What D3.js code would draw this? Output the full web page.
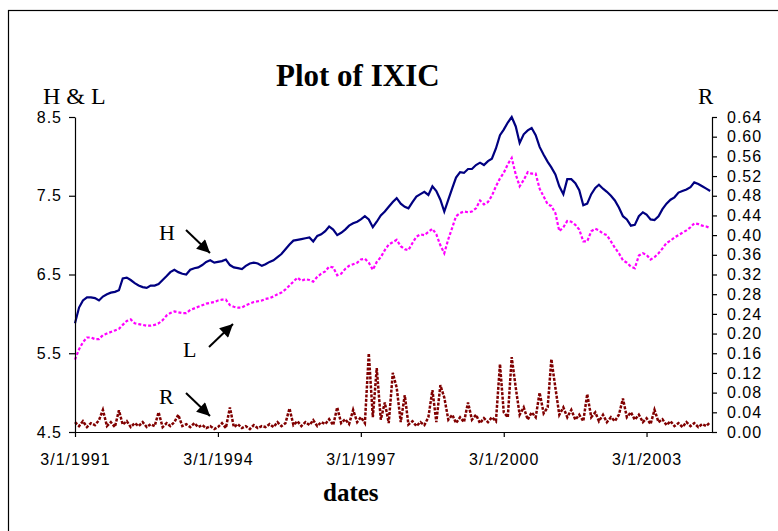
<!DOCTYPE html>
<html>
<head>
<meta charset="utf-8">
<script src="https://d3js.org/d3.v7.min.js"></script>
<style>
  body { margin: 0; background: #fff; }
  svg { display: block; }
</style>
</head>
<body>
<div id="chart"></div>
<script>
    // monthly readings, Mar 1991 .. Jul 2004
    var startMonth = new Date(1991, 2, 1), endMonth = new Date(2004, 7, 1);
    var months = d3.timeMonth.range(startMonth, endMonth);

    var hValues = [
        5.88, 6.08, 6.17, 6.21, 6.21, 6.20, 6.17, 6.22, 6.25, 6.27,
        6.28, 6.30, 6.45, 6.46, 6.43, 6.39, 6.36, 6.34, 6.33, 6.36,
        6.36, 6.38, 6.43, 6.48, 6.53, 6.56, 6.53, 6.51, 6.50, 6.56,
        6.58, 6.59, 6.62, 6.66, 6.68, 6.65, 6.66, 6.67, 6.69, 6.62,
        6.59, 6.58, 6.57, 6.61, 6.64, 6.65, 6.64, 6.61, 6.63, 6.66,
        6.68, 6.72, 6.76, 6.82, 6.88, 6.93, 6.94, 6.95, 6.96, 6.97,
        6.92, 6.99, 7.01, 7.05, 7.11, 7.07, 7.00, 7.03, 7.07, 7.12,
        7.15, 7.17, 7.20, 7.24, 7.20, 7.10, 7.17, 7.25, 7.30, 7.36,
        7.42, 7.47, 7.40, 7.36, 7.34, 7.42, 7.49, 7.52, 7.55, 7.51,
        7.62, 7.56, 7.45, 7.30, 7.45, 7.60, 7.73, 7.80, 7.79, 7.84,
        7.84, 7.89, 7.92, 7.89, 7.94, 7.97, 8.10, 8.27, 8.34, 8.43,
        8.50, 8.38, 8.17, 8.28, 8.33, 8.36, 8.27, 8.12, 8.02, 7.93,
        7.86, 7.77, 7.62, 7.52, 7.71, 7.71, 7.66, 7.57, 7.38, 7.40,
        7.52, 7.60, 7.64, 7.59, 7.55, 7.50, 7.44, 7.35, 7.24, 7.20,
        7.12, 7.13, 7.24, 7.29, 7.26, 7.20, 7.19, 7.24, 7.33, 7.40,
        7.45, 7.48, 7.54, 7.56, 7.58, 7.61, 7.67, 7.65, 7.62, 7.59,
        7.56
    ];
    var lValues = [
        5.42, 5.55, 5.64, 5.70, 5.70, 5.68, 5.68, 5.73, 5.75, 5.77,
        5.79, 5.81, 5.86, 5.91, 5.93, 5.88, 5.87, 5.86, 5.85, 5.85,
        5.86, 5.88, 5.92, 5.98, 6.01, 6.03, 6.02, 6.01, 6.01, 6.05,
        6.07, 6.09, 6.11, 6.13, 6.14, 6.15, 6.17, 6.18, 6.18, 6.11,
        6.09, 6.08, 6.08, 6.11, 6.13, 6.15, 6.16, 6.17, 6.19, 6.20,
        6.22, 6.25, 6.27, 6.31, 6.36, 6.41, 6.46, 6.42, 6.44, 6.43,
        6.41, 6.47, 6.51, 6.54, 6.60, 6.59, 6.49, 6.51, 6.57, 6.61,
        6.63, 6.65, 6.69, 6.70, 6.65, 6.56, 6.66, 6.72, 6.81, 6.88,
        6.91, 6.94, 6.86, 6.82, 6.81, 6.90, 6.98, 7.01, 7.00, 7.04,
        7.08, 7.01, 6.87, 6.77, 6.95, 7.10, 7.24, 7.28, 7.30, 7.29,
        7.30, 7.34, 7.44, 7.39, 7.42, 7.50, 7.62, 7.72, 7.79, 7.90,
        7.98, 7.77, 7.62, 7.70, 7.80, 7.78, 7.78, 7.59, 7.49, 7.39,
        7.37, 7.28, 7.05, 7.10, 7.18, 7.17, 7.13, 7.07, 6.92, 6.92,
        7.05, 7.08, 7.06, 7.02, 7.00, 6.92, 6.84, 6.77, 6.68, 6.65,
        6.60, 6.58, 6.74, 6.77, 6.75, 6.69, 6.72, 6.77, 6.83, 6.90,
        6.93, 6.97, 7.00, 7.03, 7.06, 7.10, 7.15, 7.14, 7.12, 7.11,
        7.09
    ];
    var rValues = [
        0.020, 0.012, 0.022, 0.010, 0.018, 0.014, 0.024, 0.045, 0.012, 0.020,
        0.010, 0.044, 0.015, 0.022, 0.010, 0.018, 0.012, 0.020, 0.010, 0.016,
        0.012, 0.040, 0.010, 0.018, 0.012, 0.020, 0.035, 0.012, 0.016, 0.010,
        0.018, 0.010, 0.014, 0.008, 0.012, 0.006, 0.010, 0.018, 0.008, 0.050,
        0.010, 0.016, 0.008, 0.012, 0.006, 0.014, 0.008, 0.012, 0.010, 0.016,
        0.010, 0.020, 0.012, 0.018, 0.048, 0.014, 0.022, 0.012, 0.020, 0.014,
        0.024, 0.012, 0.020, 0.016, 0.026, 0.014, 0.050, 0.018, 0.026, 0.016,
        0.045, 0.020, 0.030, 0.018, 0.160, 0.030, 0.130, 0.025, 0.060, 0.018,
        0.120, 0.090, 0.020, 0.075, 0.015, 0.022, 0.012, 0.020, 0.014, 0.030,
        0.085, 0.020, 0.095, 0.070, 0.025, 0.035, 0.018, 0.030, 0.020, 0.060,
        0.025, 0.035, 0.018, 0.028, 0.020, 0.030, 0.022, 0.138, 0.040, 0.030,
        0.152, 0.090, 0.035, 0.050, 0.025, 0.040, 0.030, 0.080, 0.038, 0.050,
        0.148, 0.090, 0.035, 0.050, 0.030, 0.045, 0.025, 0.035, 0.022, 0.077,
        0.030, 0.040, 0.022, 0.035, 0.020, 0.030, 0.022, 0.035, 0.068, 0.030,
        0.040, 0.025, 0.035, 0.020, 0.028, 0.016, 0.045, 0.020, 0.026, 0.014,
        0.022, 0.012, 0.018, 0.010, 0.020, 0.012, 0.018, 0.010, 0.016, 0.012,
        0.020
    ];

    var xTickLabels = ["3/1/1991", "3/1/1994", "3/1/1997", "3/1/2000", "3/1/2003"];
    var leftTicks = [4.5, 5.5, 6.5, 7.5, 8.5];
    var rightTicks = [0, 0.04, 0.08, 0.12, 0.16, 0.20, 0.24, 0.28, 0.32, 0.36,
        0.40, 0.44, 0.48, 0.52, 0.56, 0.60, 0.64];

    var width = 778, height = 531;
    var plot = { left: 75, right: 712, top: 117, bottom: 432 };
    var parseTick = d3.timeParse("%m/%d/%Y");

    var x = d3.scaleTime()
        .domain([startMonth, new Date(2004, 6, 15)])
        .range([plot.left, plot.right]);
    var yL = d3.scaleLinear().domain([4.5, 8.5]).range([plot.bottom, plot.top]);
    var yR = d3.scaleLinear().domain([0, 0.64]).range([plot.bottom, plot.top]);

    var svg = d3.select("#chart").append("svg")
        .attr("width", width)
        .attr("height", height);

    // outer frame (runs off the right and bottom edges)
    svg.append("rect")
        .attr("x", 8.5).attr("y", 10.5)
        .attr("width", 820).attr("height", 560)
        .attr("fill", "#fff")
        .attr("stroke", "#000")
        .attr("stroke-width", 1.2);

    // series
    var data = months.map(function (d, i) {
        return { date: d, h: hValues[i], l: lValues[i], r: rValues[i] };
    });

    svg.append("path")
        .datum(data)
        .attr("fill", "none")
        .attr("stroke", "#800000")
        .attr("stroke-width", 2.5)
        .attr("stroke-dasharray", "3,1.5")
        .attr("d", d3.line().x(function (d) { return x(d.date); }).y(function (d) { return yR(d.r); }));

    svg.append("path")
        .datum(data)
        .attr("fill", "none")
        .attr("stroke", "#ff00ff")
        .attr("stroke-width", 2.2)
        .attr("stroke-dasharray", "3,2")
        .attr("d", d3.line().x(function (d) { return x(d.date); }).y(function (d) { return yL(d.l); }));

    svg.append("path")
        .datum(data)
        .attr("fill", "none")
        .attr("stroke", "#000080")
        .attr("stroke-width", 2.2)
        .attr("d", d3.line().x(function (d) { return x(d.date); }).y(function (d) { return yL(d.h); }));

    // axes
    function styleAxis(g) {
        g.selectAll("path, line").attr("stroke", "#000").attr("stroke-width", 1.2);
        g.selectAll("text")
            .attr("font-family", "Liberation Sans, Arial, sans-serif")
            .attr("font-size", 16)
            .attr("letter-spacing", 1)
            .attr("fill", "#000");
    }

    svg.append("g")
        .attr("transform", "translate(0," + plot.bottom + ")")
        .call(d3.axisBottom(x)
            .tickValues(xTickLabels.map(parseTick))
            .tickFormat(d3.timeFormat("%-m/%-d/%Y"))
            .tickSizeInner(5).tickSizeOuter(0).tickPadding(17))
        .call(styleAxis);

    svg.append("g")
        .attr("transform", "translate(" + plot.left + ",0)")
        .call(d3.axisLeft(yL)
            .tickValues(leftTicks)
            .tickFormat(d3.format(".1f"))
            .tickSizeInner(6).tickSizeOuter(0).tickPadding(7))
        .call(styleAxis);

    svg.append("g")
        .attr("transform", "translate(" + plot.right + ",0)")
        .call(d3.axisRight(yR)
            .tickValues(rightTicks)
            .tickFormat(d3.format(".2f"))
            .tickSizeInner(5).tickSizeOuter(0).tickPadding(10))
        .call(styleAxis);

    // titles
    var serif = "Liberation Serif, Times New Roman, serif";
    svg.append("text")
        .attr("x", 276).attr("y", 86)
        .attr("font-family", serif).attr("font-weight", "bold").attr("font-size", 31)
        .text("Plot of IXIC");
    svg.append("text")
        .attr("x", 43).attr("y", 104)
        .attr("font-family", serif).attr("font-size", 24)
        .text("H & L");
    svg.append("text")
        .attr("x", 698).attr("y", 104)
        .attr("font-family", serif).attr("font-size", 23)
        .text("R");
    svg.append("text")
        .attr("x", 323).attr("y", 501)
        .attr("font-family", serif).attr("font-weight", "bold").attr("font-size", 25)
        .text("dates");

    // series labels with arrows
    var notes = [
        { label: "H", tx: 159, ty: 240, x1: 186, y1: 230, x2: 210, y2: 253 },
        { label: "L", tx: 183, ty: 357, x1: 209, y1: 347, x2: 233, y2: 324 },
        { label: "R", tx: 159, ty: 404, x1: 186, y1: 393, x2: 210, y2: 416 }
    ];

    svg.append("defs").append("marker")
        .attr("id", "head")
        .attr("viewBox", "0 0 10 10")
        .attr("refX", 10).attr("refY", 5)
        .attr("markerWidth", 7.5).attr("markerHeight", 6.5)
        .attr("markerUnits", "strokeWidth")
        .attr("orient", "auto")
        .append("path")
        .attr("d", "M0,0 L10,5 L0,10 Z")
        .attr("fill", "#000");

    notes.forEach(function (n) {
        svg.append("text")
            .attr("x", n.tx).attr("y", n.ty)
            .attr("font-family", serif).attr("font-size", 22)
            .text(n.label);
        svg.append("line")
            .attr("x1", n.x1).attr("y1", n.y1)
            .attr("x2", n.x2).attr("y2", n.y2)
            .attr("stroke", "#000")
            .attr("stroke-width", 2)
            .attr("marker-end", "url(#head)");
    });
</script>
</body>
</html>
